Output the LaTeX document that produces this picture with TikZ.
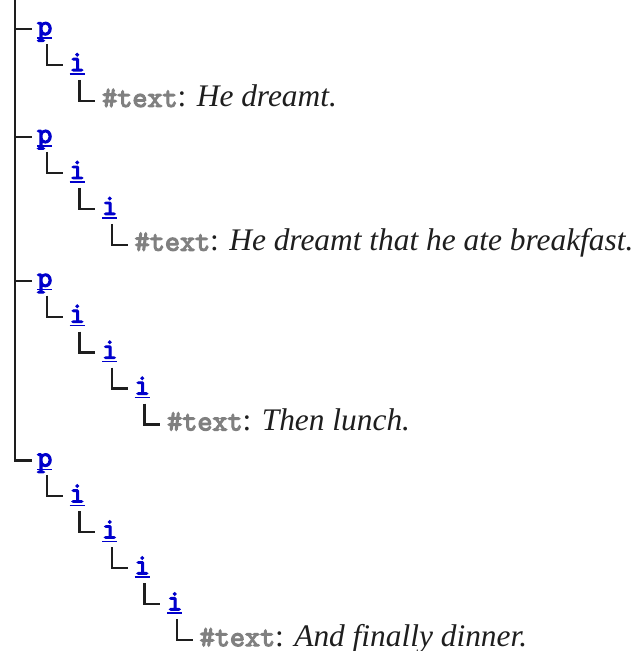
\documentclass[tikz,border=0pt]{standalone}
\usepackage{fontspec}
\newfontfamily\tmsf{Liberation Serif}
\newfontfamily\courf{Latin Modern Mono}[FakeBold=4]
\definecolor{linkblue}{HTML}{0000CC}
\definecolor{tagray}{HTML}{808080}
\definecolor{darkline}{HTML}{1E1E1E}
\newcommand{\monosz}{\fontsize{29.3}{34}\selectfont\courf}
\newcommand{\serifsz}{\fontsize{31.4}{36}\selectfont\tmsf}
\newcommand{\txt}[1]{{\monosz\color{tagray}\#text}{\serifsz\color{darkline}: \itshape #1}}
\tikzset{
  lnk/.style={inner sep=0pt, anchor=base west, text=linkblue, font=\monosz},
  txtnode/.style={inner sep=0pt, anchor=base west},
  conn/.style={draw=darkline, line width=2.2pt, line join=miter},
  uline/.style={draw=linkblue, line width=1.6pt}
}
\begin{document}
\begin{tikzpicture}[x=1pt,y=1pt]
\useasboundingbox[fill=white] (0,0) rectangle (642,-651);
% group 1
\node[lnk] (p1) at (37,-35) {p};
\node[lnk] (a1) at (69.5,-70.95) {i};
\node[txtnode] (t1) at (102,-106.9) {\txt{He dreamt.}};
% group 2
\node[lnk] (p2) at (37,-142.85) {p};
\node[lnk] (b1) at (69.5,-178.8) {i};
\node[lnk] (b2) at (102,-214.75) {i};
\node[txtnode] (t2) at (134.5,-250.7) {\txt{He dreamt that he ate breakfast.}};
% group 3
\node[lnk] (p3) at (37,-286.65) {p};
\node[lnk] (c1) at (69.5,-322.6) {i};
\node[lnk] (c2) at (102,-358.55) {i};
\node[lnk] (c3) at (134.5,-394.5) {i};
\node[txtnode] (t3) at (167,-430.45) {\txt{Then lunch.}};
% group 4
\node[lnk] (p4) at (37,-466.4) {p};
\node[lnk] (d1) at (69.5,-502.35) {i};
\node[lnk] (d2) at (102,-538.3) {i};
\node[lnk] (d3) at (134.5,-574.25) {i};
\node[lnk] (d4) at (167,-610.2) {i};
\node[txtnode] (t4) at (199.5,-646.15) {\txt{And finally dinner.}};
% underlines
\foreach \n in {p1,a1,p2,b1,b2,p3,c1,c2,c3,p4,d1,d2,d3,d4}
  \draw[uline] ([yshift=-3pt]\n.base west) -- ([yshift=-3pt]\n.base east);
% trunk
\coordinate (top) at (15,0);
\foreach \n in {p1,p2,p3,p4}
  \draw[conn] (top) |- ([xshift=-5pt,yshift=6pt]\n.base west);
% branches
\foreach \pa/\ch in {p1/a1,a1/t1,p2/b1,b1/b2,b2/t2,p3/c1,c1/c2,c2/c3,c3/t3,p4/d1,d1/d2,d2/d3,d3/d4,d4/t4}
  \draw[conn] ([xshift=10pt,yshift=-9pt]\pa.base west) |- ([xshift=-7pt,yshift=6pt]\ch.base west);
\end{tikzpicture}
\end{document}
